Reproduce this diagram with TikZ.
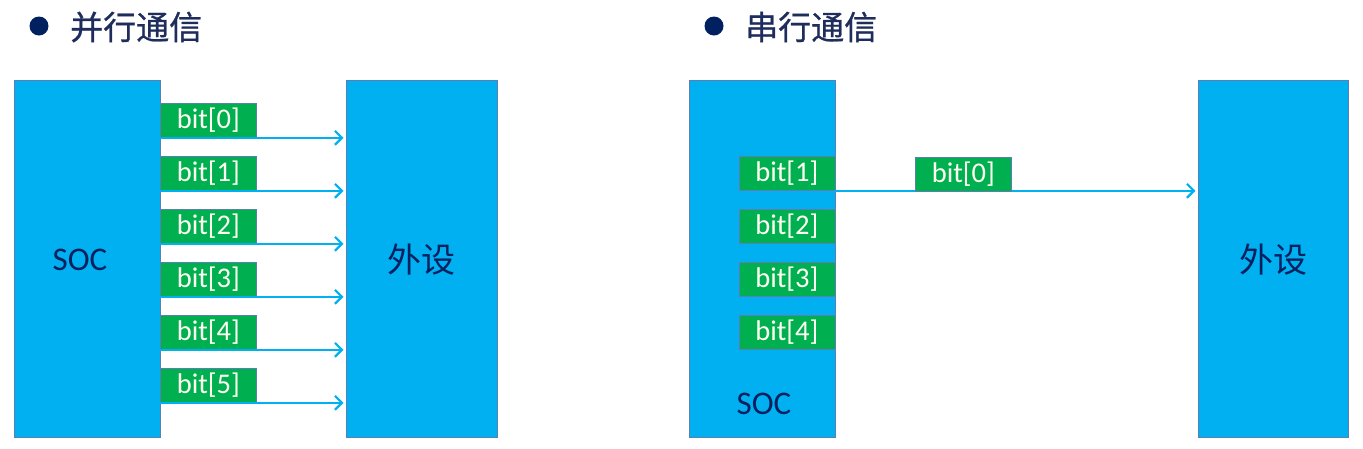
\documentclass[tikz,border=0pt]{standalone}
\usepackage{fontspec}
\setmainfont{Carlito}
\newfontfamily\cjk{Noto Sans CJK SC}
\newfontfamily\cjkt[FakeBold=0.8]{Noto Sans CJK SC}
\usetikzlibrary{arrows.meta}
\definecolor{skyb}{HTML}{00B0F0}
\definecolor{grn}{HTML}{00B050}
\definecolor{edgec}{HTML}{5A7FB0}
\definecolor{navy}{HTML}{002060}
\definecolor{ttl}{HTML}{1F2D5C}
\definecolor{bittxt}{HTML}{FFFFF2}
\begin{document}
\begin{tikzpicture}[x=1pt,y=-1pt,
  blk/.style={draw=edgec,line width=1pt,fill=skyb,inner sep=0pt,minimum height=357pt},
  bitbox/.style={draw=edgec,line width=0.8pt,fill=grn,minimum width=96pt,minimum height=34pt,inner sep=0pt,anchor=north west,text=bittxt,font=\fontsize{28.5}{28.5}\selectfont},
  soclbl/.style={text=navy,font=\fontsize{33}{33}\selectfont,inner sep=0pt},
  perlbl/.style={text=navy,font=\cjk\fontsize{34}{34}\selectfont,inner sep=0pt},
  ttltxt/.style={text=ttl,font=\cjkt\fontsize{33}{33}\selectfont,inner sep=0pt,anchor=west},
  dot/.style={circle,fill=navy,minimum size=19pt,inner sep=0pt},
  arr/.style={draw=skyb,line width=2.4pt,-{Straight Barb[length=7pt,width=14pt,line width=2.2pt]},shorten >=2pt}]
\useasboundingbox (0,0) rectangle (1363,448);

% titles
\node[dot] (d1) at (39,26) {};
\node[ttltxt] (t1) at (70,27) {并行通信};
\node[dot] (d2) at (714,26) {};
\node[ttltxt] (t2) at (745,27) {串行通信};

% parallel
\node[blk,minimum width=146pt] (soc1) at (87,258.5) {};
\node[soclbl] (soc1t) at (80,260) {SOC};
\node[blk,minimum width=151pt] (per1) at (421.5,258.5) {};
\node[perlbl] (per1t) at (421,260) {外设};
\foreach \i/\yy in {0/103,1/156,2/209,3/262,4/315,5/368}{
  \node[bitbox] (b\i) at (160,\yy) {bit[\i]};
  \draw[arr] (b\i.south west) -- (b\i.south west -| per1.west);
}

% serial
\node[blk,minimum width=146pt] (soc2) at (762,258.5) {};
\node[soclbl] (soc2t) at (764,404) {SOC};
\node[blk,minimum width=150pt] (per2) at (1273,258.5) {};
\node[perlbl] (per2t) at (1273,260) {外设};
\foreach \i/\yy in {1/156,2/209,3/262,4/315}{
  \node[bitbox] (r\i) at (738.5,\yy) {bit[\i]};
}
\draw[arr] (r1.south east) -- (r1.south east -| per2.west);
\node[bitbox] (r0) at (915,157) {bit[0]};
\end{tikzpicture}
\end{document}
